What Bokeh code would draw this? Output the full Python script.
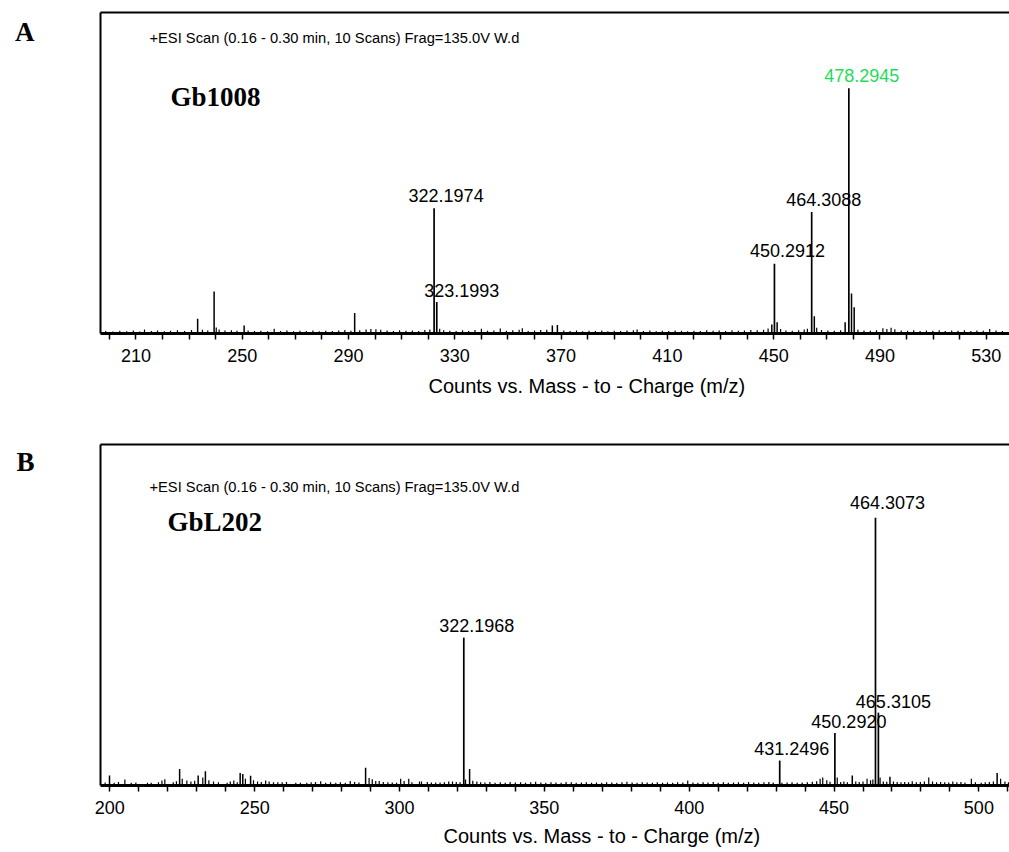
from bokeh.plotting import figure
from bokeh.models import Range1d, FixedTicker, LinearAxis, Label, Title
from bokeh.layouts import column
from bokeh.core.properties import value
from bokeh.embed import file_html
from bokeh.resources import INLINE

# ---------------- data : panel A (Gb1008) ----------------
scan_text = "+ESI Scan (0.16 - 0.30 min, 10 Scans) Frag=135.0V W.d"
axis_title = "Counts vs. Mass - to - Charge (m/z)"

a_letter = "A"
a_sample = "Gb1008"
a_peak_mz = [322.1974, 323.1993, 450.2912, 464.3088, 478.2945]
a_peak_int = [51.1, 12.8, 28.4, 49.5, 100.0]
a_peak_color = ["black", "black", "black", "black", "#1fdc5a"]
a_minor_mz = [233.2, 239.4, 250.7, 292.3, 366.7, 368.6, 449.3, 451.3, 465.3, 476.9, 479.3, 480.3]
a_minor_int = [6.0, 17.1, 3.3, 8.4, 3.3, 3.5, 3.7, 4.6, 7.0, 4.6, 16.3, 10.7]
a_noise = [(198.6, 1.0), (201.3, 0.8), (203.9, 1.1), (206.5, 0.9), (209.0, 1.2), (211.4, 0.8),
           (213.2, 1.6), (215.8, 1.0), (218.1, 1.2), (220.7, 0.9), (223.0, 1.1), (225.6, 1.3),
           (228.3, 1.0), (230.9, 1.4), (235.0, 1.5), (237.0, 1.2), (240.2, 2.4), (241.3, 1.6),
           (243.5, 1.2), (245.9, 1.3), (248.0, 1.1), (252.2, 1.2), (254.6, 1.0), (257.0, 1.1),
           (259.5, 0.9), (262.0, 1.9), (264.4, 1.0), (266.8, 1.2), (269.3, 0.9), (271.7, 1.1),
           (274.1, 1.0), (276.6, 1.2), (279.0, 0.9), (281.4, 1.1), (283.9, 1.0), (286.3, 1.2),
           (288.6, 1.4), (290.9, 1.1), (294.2, 1.3), (296.6, 1.6), (298.4, 1.8), (300.3, 1.7),
           (302.1, 1.5), (304.5, 1.2), (306.9, 1.0), (309.2, 1.3), (311.6, 1.1), (314.0, 1.2),
           (316.4, 1.0), (318.7, 1.4), (320.6, 1.6), (324.3, 1.9), (325.8, 1.3), (328.1, 1.1),
           (330.5, 1.0), (332.9, 1.3), (335.2, 1.0), (337.6, 1.4), (340.0, 1.9), (342.3, 1.1),
           (344.7, 1.2), (347.1, 2.0), (349.4, 1.1), (351.8, 1.3), (354.2, 1.5), (355.4, 2.1),
           (357.6, 1.0), (360.0, 1.2), (362.3, 1.4), (364.6, 1.5), (371.0, 1.2), (373.4, 1.0),
           (375.8, 1.2), (378.1, 0.9), (380.5, 1.1), (382.9, 1.0), (385.3, 1.2), (387.6, 0.9),
           (390.0, 1.1), (392.4, 1.0), (394.8, 1.2), (397.2, 1.3), (398.6, 1.6), (401.0, 1.0),
           (403.4, 1.2), (405.8, 0.9), (408.1, 1.1), (410.5, 1.0), (412.9, 1.2), (415.3, 1.1),
           (417.6, 0.9), (420.0, 1.1), (422.4, 1.0), (424.8, 1.3), (427.2, 1.1), (429.5, 1.2),
           (431.9, 1.0), (434.3, 1.3), (436.7, 1.1), (439.0, 1.2), (441.4, 1.4), (443.8, 1.3),
           (446.2, 1.5), (447.9, 2.0), (452.6, 1.8), (454.6, 1.2), (457.0, 1.1), (459.4, 1.3),
           (461.5, 1.6), (462.7, 1.9), (466.2, 2.3), (468.0, 1.4), (470.4, 1.2), (472.8, 1.1),
           (475.2, 1.3), (481.7, 1.5), (484.0, 1.2), (486.4, 1.1), (488.7, 1.3), (491.1, 2.1),
           (492.6, 1.8), (494.2, 2.3), (495.6, 1.7), (498.0, 1.2), (500.4, 1.1), (502.7, 1.3),
           (505.1, 1.0), (507.5, 1.2), (509.9, 1.1), (512.3, 1.3), (514.6, 1.0), (517.0, 1.2),
           (519.4, 1.1), (521.8, 1.3), (524.2, 1.0), (526.5, 1.2), (528.9, 1.1), (531.3, 1.8),
           (533.7, 1.2), (536.1, 1.0)]
a_major_ticks = [210, 250, 290, 330, 370, 410, 450, 490, 530]
a_minor_ticks = [200, 220, 230, 240, 260, 270, 280, 300, 310, 320, 340, 350, 360, 380, 390,
                 400, 420, 430, 440, 460, 470, 480, 500, 510, 520]

# ---------------- data : panel B (GbL202) ----------------
b_letter = "B"
b_sample = "GbL202"
b_peak_mz = [322.1968, 431.2496, 450.2920, 464.3073, 465.3105]
b_peak_int = [55.2, 9.3, 19.6, 100.0, 27.2]
b_peak_color = ["black"] * 5
b_minor_mz = [199.9, 224.1, 230.5, 233.0, 245.0, 245.9, 248.6, 288.3, 324.2, 456.3, 469.3, 506.3]
b_minor_int = [3.7, 6.2, 3.7, 5.3, 4.7, 4.3, 3.6, 6.6, 6.2, 3.7, 3.3, 4.7]
b_noise = [(198.4, 1.1), (201.5, 1.0), (203.0, 1.3), (205.2, 2.2), (207.4, 1.0), (209.0, 1.1),
           (213.0, 1.0), (214.3, 1.0), (216.8, 1.2), (218.0, 1.9), (219.0, 2.3), (221.9, 1.2),
           (223.0, 1.6), (225.0, 2.5), (226.6, 1.9), (228.0, 1.5), (229.3, 1.8), (232.1, 3.0),
           (234.2, 2.0), (235.8, 1.5), (237.5, 1.2), (240.5, 1.0), (241.6, 1.5), (242.8, 1.9),
           (244.0, 1.2), (246.8, 2.5), (249.6, 2.0), (251.0, 1.5), (252.3, 1.3), (253.8, 1.9),
           (255.0, 1.5), (256.5, 1.2), (258.0, 1.2), (259.5, 1.2), (261.0, 1.3), (264.2, 1.0),
           (265.8, 1.0), (268.0, 1.0), (269.5, 1.2), (271.0, 1.3), (272.8, 1.6), (274.5, 1.0),
           (276.2, 1.2), (278.0, 1.0), (279.6, 1.2), (281.3, 1.0), (283.0, 1.7), (284.5, 1.3),
           (286.0, 1.1), (289.5, 2.8), (290.6, 2.3), (291.8, 1.7), (293.0, 1.7), (294.4, 1.3),
           (296.0, 1.2), (297.5, 1.1), (299.0, 1.0), (300.4, 2.5), (301.6, 1.7), (303.2, 2.5),
           (304.3, 1.2), (306.9, 1.5), (307.6, 1.5), (309.6, 1.3), (311.0, 1.1), (312.5, 1.1),
           (314.0, 1.1), (315.5, 1.2), (317.0, 1.5), (318.3, 1.5), (319.6, 1.3), (320.9, 1.2),
           (322.8, 2.2), (325.3, 1.8), (326.7, 1.5), (328.0, 1.2), (329.5, 1.1), (331.2, 1.3),
           (333.0, 1.0), (334.8, 1.2), (336.5, 1.0), (338.2, 1.3), (340.0, 1.1), (341.8, 1.2),
           (343.5, 1.0), (345.3, 1.2), (347.0, 1.4), (348.8, 1.1), (350.5, 1.0), (352.3, 1.2),
           (354.0, 1.1), (355.8, 1.0), (357.5, 1.3), (359.3, 1.2), (361.0, 1.0), (362.8, 1.1),
           (364.5, 1.2), (366.3, 1.0), (368.0, 1.1), (369.8, 1.0), (371.5, 1.2), (373.3, 1.1),
           (375.0, 1.0), (376.8, 1.2), (378.5, 1.4), (380.3, 1.1), (382.0, 1.0), (383.8, 1.2),
           (385.5, 1.1), (387.3, 1.0), (389.0, 1.2), (390.8, 1.0), (392.5, 1.1), (394.3, 1.0),
           (396.0, 1.2), (397.8, 1.1), (399.5, 1.9), (401.3, 1.1), (403.0, 1.0), (404.8, 1.2),
           (406.5, 1.1), (408.3, 1.3), (410.0, 1.0), (411.8, 1.2), (413.5, 1.0), (415.3, 1.1),
           (417.0, 1.2), (418.8, 1.0), (420.5, 1.3), (422.3, 1.1), (424.0, 1.0), (425.8, 1.2),
           (427.5, 1.3), (429.0, 1.1), (432.0, 1.0), (433.8, 1.1), (435.5, 1.2), (437.3, 1.0),
           (439.0, 1.1), (440.8, 1.2), (442.5, 1.4), (444.0, 1.6), (445.2, 2.5), (446.1, 3.0),
           (447.5, 2.0), (448.6, 1.4), (451.1, 3.0), (452.3, 1.3), (453.4, 1.5), (454.6, 1.2),
           (457.5, 1.5), (458.7, 1.3), (460.0, 1.5), (461.4, 2.5), (462.6, 2.0), (463.4, 2.2),
           (465.9, 3.0), (467.0, 1.5), (468.2, 1.4), (470.5, 1.5), (471.8, 1.3), (473.1, 1.2),
           (474.4, 1.3), (475.7, 1.2), (477.0, 1.6), (478.4, 1.2), (479.8, 1.3), (481.2, 1.5),
           (482.7, 3.0), (484.0, 1.5), (485.4, 1.2), (486.8, 1.3), (488.2, 1.2), (489.6, 1.1),
           (491.0, 1.5), (492.4, 1.2), (493.8, 1.3), (495.2, 1.1), (497.4, 2.5), (498.8, 1.2),
           (500.8, 1.0), (502.2, 1.2), (503.6, 1.3), (505.0, 1.5), (507.5, 2.5), (509.0, 1.5),
           (510.2, 1.2)]
b_major_ticks = [200, 250, 300, 350, 400, 450, 500]
b_minor_ticks = [210, 220, 230, 240, 260, 270, 280, 290, 310, 320, 330, 340, 360, 370, 380,
                 390, 410, 420, 430, 440, 460, 470, 480, 490, 510]

# ---------------- styling / layout ----------------
SANS = "Liberation Sans"
SERIF = "Liberation Serif"
FIG_W = 1009
FRAME_LEFT = 100


def make_panel(height, mb_top, mb_bottom, xr, yr, major, minor, letter, letter_y,
               title_offset, title_standoff):
    p = figure(width=FIG_W, height=height, x_range=Range1d(*xr), y_range=Range1d(*yr),
               output_backend="svg", toolbar_location=None,
               x_axis_location=None, y_axis_location=None,
               min_border_left=FRAME_LEFT, min_border_right=0,
               min_border_top=mb_top, min_border_bottom=mb_bottom)
    p.outline_line_color = None
    p.grid.visible = False
    p.background_fill_color = "white"
    p.border_fill_color = "white"

    xa = LinearAxis(ticker=FixedTicker(ticks=major, minor_ticks=minor))
    xa.axis_line_width = 3
    xa.axis_line_color = "black"
    xa.major_tick_out = 6
    xa.major_tick_in = 0
    xa.minor_tick_out = 6
    xa.minor_tick_in = 0
    xa.major_tick_line_width = 1.5
    xa.minor_tick_line_width = 1.5
    xa.major_label_text_font = SANS
    xa.major_label_text_font_size = "18px"
    xa.major_label_text_color = "black"
    xa.major_label_standoff = 9
    p.add_layout(xa, "below")

    # panel letter carried by the left (frame) axis as its only label
    ya = LinearAxis(ticker=FixedTicker(ticks=[letter_y]))
    ya.major_label_overrides = {letter_y: letter}
    ya.axis_line_width = 2
    ya.axis_line_color = "black"
    ya.major_tick_out = 0
    ya.major_tick_in = 0
    ya.minor_tick_out = 0
    ya.minor_tick_in = 0
    ya.major_label_text_font = SERIF
    ya.major_label_text_font_style = "bold"
    ya.major_label_text_font_size = "27px"
    ya.major_label_text_color = "black"
    ya.major_label_standoff = 66
    p.add_layout(ya, "left")

    top = LinearAxis(ticker=FixedTicker(ticks=[]))
    top.axis_line_width = 2
    top.axis_line_color = "black"
    top.major_tick_out = 0
    top.major_tick_in = 0
    top.minor_tick_out = 0
    top.minor_tick_in = 0
    top.major_label_text_font_size = "0px"
    top.major_label_standoff = 0
    p.add_layout(top, "above")

    p.add_layout(Title(text=axis_title, align="left", offset=title_offset,
                       standoff=title_standoff, text_font=SANS, text_font_size="20px",
                       text_font_style="normal", text_color="black"), "below")
    return p


def to_data(px, py, geo):
    fl, fr, ft, fb, x0, x1, y0, y1 = geo
    return (x0 + (px - fl) * (x1 - x0) / (fr - fl),
            y0 + (fb - py) * (y1 - y0) / (fb - ft))


def draw(p, geo, peak_mz, peak_int, peak_color, minor_mz, minor_int, noise,
         dx, dy, sample, sample_pos, scan_pos):
    n_mz = [m for m, _ in noise]
    n_int = [h for _, h in noise]
    p.segment(x0=n_mz, y0=[0] * len(n_mz), x1=n_mz, y1=n_int, line_color="black", line_width=1.2)
    p.segment(x0=minor_mz, y0=[0] * len(minor_mz), x1=minor_mz, y1=minor_int,
              line_color="black", line_width=1.5)
    p.segment(x0=peak_mz, y0=[0] * len(peak_mz), x1=peak_mz, y1=peak_int,
              line_color="black", line_width=1.7)
    # label centre = peak top - gap - half cap height
    p.text(x=peak_mz, y=peak_int, text=[f"{m:.4f}" for m in peak_mz],
           x_offset=dx, y_offset=[-(d + 6.5) for d in dy],
           text_font=value(SANS), text_font_size="18px", text_color=peak_color,
           text_align="center", text_baseline="middle")

    def lab(txt, pos, font, size, style):
        x, y = to_data(pos[0], pos[1], geo)
        p.add_layout(Label(x=x, y=y, text=txt, text_font=font, text_font_size=size,
                           text_font_style=style, text_align="left",
                           text_baseline="middle", text_color="black"))

    lab(sample, sample_pos, SERIF, "27px", "bold")
    lab(scan_text, scan_pos, SANS, "14.7px", "normal")


# Panel A : figure at page y 0, frame top 12 / bottom 333 (page)
A_H = 405
xA = (196.64, 538.76)
yA = (0, 130.9)
geoA = (100, 1009, 12, 333) + xA + yA
pA = make_panel(A_H, 12, A_H - 333, xA, yA, a_major_ticks, a_minor_ticks,
                a_letter, to_data(0, 31, geoA)[1], title_offset=328, title_standoff=16)
draw(pA, geoA, a_peak_mz, a_peak_int, a_peak_color, a_minor_mz, a_minor_int, a_noise,
     dx=[12, 25, 13, 12, 13], dy=[6, 5, 6.5, 6.5, 6.5],
     sample=a_sample, sample_pos=(170, 96), scan_pos=(149, 37))

# Panel B : figure at page y 405, frame top 444 / bottom 786 (page)
B_H = 852 - A_H
xB = (196.79, 510.57)
yB = (0, 127.3)
geoB = (100, 1009, 444, 786) + xB + yB
pB = make_panel(B_H, 444 - A_H, B_H - (786 - A_H), xB, yB, b_major_ticks, b_minor_ticks,
                b_letter, to_data(0, 462, geoB)[1], title_offset=343, title_standoff=12)
draw(pB, geoB, b_peak_mz, b_peak_int, b_peak_color, b_minor_mz, b_minor_int, b_noise,
     dx=[13, 12, 14, 12, 15], dy=[5.5, 6, 5, 9, 5],
     sample=b_sample, sample_pos=(167, 522), scan_pos=(149, 487))

layout = column(pA, pB, spacing=0)
open("out.html", "w").write(file_html(layout, INLINE))
